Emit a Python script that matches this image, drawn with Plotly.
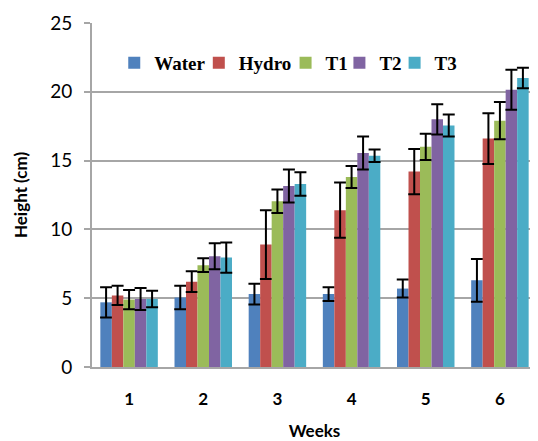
import plotly.graph_objects as go

weeks = ["1", "2", "3", "4", "5", "6"]
series_names = ["Water", "Hydro", "T1", "T2", "T3"]
water = [4.7, 5.05, 5.3, 5.3, 5.7, 6.3]
hydro = [5.2, 6.2, 8.9, 11.4, 14.2, 16.6]
t1 = [4.9, 7.4, 12.05, 13.8, 16.0, 17.9]
t2 = [4.95, 8.05, 13.15, 15.55, 18.0, 20.15]
t3 = [4.95, 7.95, 13.3, 15.35, 17.55, 21.0]
water_err = [1.1, 0.85, 0.75, 0.5, 0.65, 1.55]
hydro_err = [0.7, 0.75, 2.5, 2.0, 1.65, 1.85]
t1_err = [0.7, 0.5, 0.85, 0.8, 0.95, 1.35]
t2_err = [0.8, 0.95, 1.2, 1.2, 1.1, 1.45]
t3_err = [0.6, 1.1, 0.85, 0.45, 0.8, 0.75]
colors = ["#4F81BD", "#C0504D", "#9BBB59", "#8064A2", "#4BACC6"]

values = [water, hydro, t1, t2, t3]
errors = [water_err, hydro_err, t1_err, t2_err, t3_err]

# legend placement (paper x of each entry)
legend_x = [0.050, 0.240, 0.435, 0.556, 0.680]
legend_ids = ["legend", "legend2", "legend3", "legend4", "legend5"]

fig = go.Figure()
for name, vals, errs, col, lid in zip(series_names, values, errors, colors, legend_ids):
    fig.add_trace(go.Bar(
        x=weeks, y=vals, name=name, marker=dict(color=col, line=dict(width=0)),
        error_y=dict(type="data", array=errs, visible=True, color="black",
                     thickness=2, width=6),
        legend=lid,
    ))

legend_font = dict(family="Liberation Serif", size=19, color="black", weight="bold")
legend_layouts = {}
for lid, lx in zip(legend_ids, legend_x):
    legend_layouts[lid] = dict(orientation="h", x=lx, xanchor="left", y=0.884,
                               yanchor="middle", font=legend_font,
                               bgcolor="rgba(0,0,0,0)", itemwidth=30,
                               borderwidth=0)

grid_col = "#a6a6a6"
fig.update_layout(
    width=530, height=433,
    margin=dict(l=84, r=1, t=15, b=74),
    paper_bgcolor="white", plot_bgcolor="white",
    barmode="group", bargap=0.225, bargroupgap=0,
    showlegend=True,
    xaxis=dict(
        type="category", showgrid=False, showline=True, linecolor=grid_col, linewidth=2,
        ticks="", ticklabelstandoff=16,
        tickfont=dict(family="Lato", size=17, color="black", weight="bold"),
        title=dict(text="Weeks", font=dict(family="Lato", size=17, color="black", weight="bold"),
                   standoff=20),
        automargin=False,
    ),
    yaxis=dict(
        range=[0, 25], dtick=5, showgrid=True, gridcolor=grid_col, gridwidth=1.5,
        showline=True, linecolor=grid_col, linewidth=2,
        ticks="outside", ticklen=6, tickcolor=grid_col, tickwidth=1.5,
        ticklabelstandoff=8,
        tickfont=dict(family="Lato", size=19, color="black"),
        title=dict(text="Height (cm)", font=dict(family="Lato", size=17, color="black", weight="bold"),
                   standoff=18),
        zeroline=False, automargin=False,
    ),
    **legend_layouts,
)

fig.write_html("out.html")
